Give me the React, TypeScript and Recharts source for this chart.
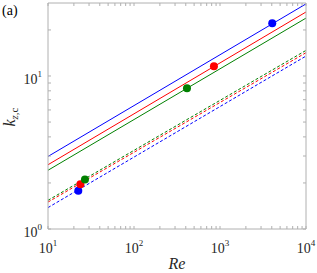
import { ComposedChart, Line, Scatter, XAxis, YAxis } from 'recharts'

// end points of each power law (Re = 10 and Re = 10^4)
const reEnds = [10, 10000]
const solidBlue = [2.98, 29.6]
const solidRed = [2.63, 26.2]
const solidGreen = [2.42, 23.9]
const dashedGreen = [1.54, 14.7]
const dashedRed = [1.5, 14.2]
const dashedBlue = [1.38, 13.5]

// markers
const blueRe = [22.5, 4050]
const blueK = [1.78, 22.1]
const redRe = [23.8, 850]
const redK = [1.96, 11.6]
const greenRe = [26.9, 413]
const greenK = [2.11, 8.32]

const xMajor = [10, 100, 1000, 10000]
const xMinor = [20, 30, 40, 50, 60, 70, 80, 90, 200, 300, 400, 500, 600, 700, 800, 900, 2000, 3000, 4000, 5000, 6000, 7000, 8000, 9000]
const yMajor = [1, 10]
const yMinor = [2, 3, 4, 5, 6, 7, 8, 9, 20]

const xTicks = [...xMajor, ...xMinor].sort((a, b) => a - b)
const yTicks = [...yMajor, ...yMinor].sort((a, b) => a - b)

const BLUE = '#0000ff'
const RED = '#ff0000'
const GREEN = '#008000'
const AXIS = '#b0b0b0'
const FONT = 'Liberation Serif, DejaVu Serif, Times New Roman, serif'

const toLine = (ys: number[]) => reEnds.map((re, i) => ({ re, k: ys[i] }))
const toPts = (xs: number[], ys: number[]) => xs.map((re, i) => ({ re, k: ys[i] }))

const exp = (v: number) => Math.round(Math.log10(v))

// eslint-disable-next-line @typescript-eslint/no-explicit-any
function BottomTick({ x, y, payload }: any) {
  const v = payload.value
  const major = xMajor.includes(v)
  return (
    <g>
      <line x1={x} x2={x} y1={y} y2={y - 3} stroke={AXIS} />
      {major && (
        <text x={x} y={y + 24} textAnchor="middle" style={{ fontFamily: FONT }} fontSize={14} fill="#262626">
          10<tspan dy={-7} fontSize={9}>{exp(v)}</tspan>
        </text>
      )}
    </g>
  )
}

// eslint-disable-next-line @typescript-eslint/no-explicit-any
function TopTick({ x, y }: any) {
  return <line x1={x} x2={x} y1={y} y2={y + 3} stroke={AXIS} />
}

// eslint-disable-next-line @typescript-eslint/no-explicit-any
function LeftTick({ x, y, payload }: any) {
  const v = payload.value
  const major = yMajor.includes(v)
  return (
    <g>
      <line x1={x} x2={x + 3} y1={y} y2={y} stroke={AXIS} />
      {major && (
        <text x={x - 6} y={y + 8} textAnchor="end" style={{ fontFamily: FONT }} fontSize={14} fill="#262626">
          10<tspan dy={-7} fontSize={9}>{exp(v)}</tspan>
        </text>
      )}
    </g>
  )
}

// eslint-disable-next-line @typescript-eslint/no-explicit-any
function RightTick({ x, y }: any) {
  return <line x1={x} x2={x - 3} y1={y} y2={y} stroke={AXIS} />
}

// eslint-disable-next-line @typescript-eslint/no-explicit-any
const dot = (color: string) => (p: any) => <circle cx={p.cx} cy={p.cy} r={4} fill={color} />

export default function App() {
  return (
    <div style={{ position: 'absolute', left: 0, top: 0, width: 317, height: 273, background: '#fff' }}>
      <div style={{ position: 'absolute', left: 2, top: 3, fontFamily: FONT, fontSize: 14, color: '#000' }}>(a)</div>
      <ComposedChart width={317} height={273} margin={{ top: 0, right: 0, bottom: 0, left: 0 }}>
        <XAxis
          xAxisId="b"
          dataKey="re"
          type="number"
          scale="log"
          domain={[10, 10000]}
          allowDataOverflow
          ticks={xTicks}
          interval={0}
          height={44}
          tickSize={0}
          tickMargin={0}
          tick={<BottomTick />}
          tickLine={false}
          axisLine={{ stroke: AXIS }}
          label={{
            content: () => (
              <text x={177} y={269} textAnchor="middle" style={{ fontFamily: FONT }} fontStyle="italic" fontSize={16} fill="#262626">
                Re
              </text>
            ),
          }}
        />
        <XAxis
          xAxisId="t"
          orientation="top"
          dataKey="re"
          type="number"
          scale="log"
          domain={[10, 10000]}
          allowDataOverflow
          ticks={xTicks}
          interval={0}
          height={3}
          tickSize={0}
          tickMargin={0}
          tick={<TopTick />}
          tickLine={false}
          axisLine={{ stroke: AXIS }}
        />
        <YAxis
          yAxisId="l"
          dataKey="k"
          type="number"
          scale="log"
          domain={[1, 30]}
          allowDataOverflow
          ticks={yTicks}
          interval={0}
          width={48}
          tickSize={0}
          tickMargin={0}
          tick={<LeftTick />}
          tickLine={false}
          axisLine={{ stroke: AXIS }}
          label={{
            content: () => (
              <text transform="translate(15,117) rotate(-90)" textAnchor="middle" style={{ fontFamily: FONT }} fontSize={16} fill="#262626">
                <tspan fontStyle="italic">k</tspan>
                <tspan dy={3} fontSize={11}>
                  <tspan fontStyle="italic">z</tspan>,c
                </tspan>
              </text>
            ),
          }}
        />
        <YAxis
          yAxisId="r"
          orientation="right"
          dataKey="k"
          type="number"
          scale="log"
          domain={[1, 30]}
          allowDataOverflow
          ticks={yTicks}
          interval={0}
          width={11}
          tickSize={0}
          tickMargin={0}
          tick={<RightTick />}
          tickLine={false}
          axisLine={{ stroke: AXIS }}
        />
        <Line xAxisId="b" yAxisId="l" data={toLine(solidBlue)} dataKey="k" stroke={BLUE} strokeWidth={1} dot={false} isAnimationActive={false} />
        <Line xAxisId="b" yAxisId="l" data={toLine(solidRed)} dataKey="k" stroke={RED} strokeWidth={1} dot={false} isAnimationActive={false} />
        <Line xAxisId="b" yAxisId="l" data={toLine(solidGreen)} dataKey="k" stroke={GREEN} strokeWidth={1} dot={false} isAnimationActive={false} />
        <Line xAxisId="b" yAxisId="l" data={toLine(dashedGreen)} dataKey="k" stroke={GREEN} strokeWidth={1} strokeDasharray="3 2" dot={false} isAnimationActive={false} />
        <Line xAxisId="b" yAxisId="l" data={toLine(dashedRed)} dataKey="k" stroke={RED} strokeWidth={1} strokeDasharray="3 2" dot={false} isAnimationActive={false} />
        <Line xAxisId="b" yAxisId="l" data={toLine(dashedBlue)} dataKey="k" stroke={BLUE} strokeWidth={1} strokeDasharray="3 2" dot={false} isAnimationActive={false} />
        <Scatter xAxisId="b" yAxisId="l" data={toPts(blueRe, blueK)} dataKey="k" shape={dot(BLUE)} isAnimationActive={false} />
        <Scatter xAxisId="b" yAxisId="l" data={toPts(redRe, redK)} dataKey="k" shape={dot(RED)} isAnimationActive={false} />
        <Scatter xAxisId="b" yAxisId="l" data={toPts(greenRe, greenK)} dataKey="k" shape={dot(GREEN)} isAnimationActive={false} />
      </ComposedChart>
    </div>
  )
}
